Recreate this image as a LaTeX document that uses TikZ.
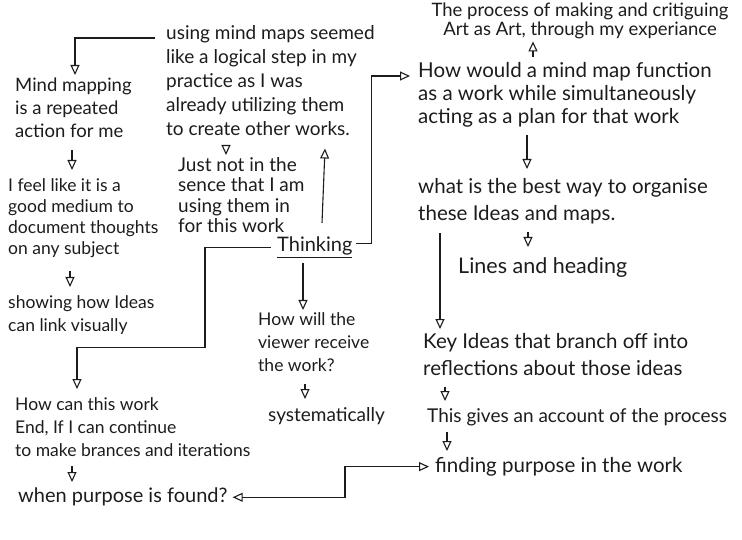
\documentclass[tikz,border=0pt]{standalone}
\usepackage{fontspec}
\setmainfont{Lato}
\usetikzlibrary{arrows.meta}
\definecolor{ink}{RGB}{28,28,28}
\newcommand\hand{\fontsize{17.5}{23}\selectfont}
\newcommand\handbig{\fontsize{20.5}{23}\selectfont}
\tikzset{
  note/.style={align=left, inner sep=0pt, anchor=north west, font=\hand, text=ink},
  arr/.style={-{Triangle[open,length=10pt,width=9pt]}, line width=1.1pt, draw=ink},
  arrtwo/.style={{Triangle[open,length=10pt,width=9pt]}-{Triangle[open,length=10pt,width=9pt]}, line width=1.1pt, draw=ink}
}
\begin{document}
\begin{tikzpicture}[x=1pt,y=-1pt]
    \useasboundingbox (0,0) rectangle (742,540);
    % left column
    \node [note, font=\fontsize{18.5}{23}\selectfont] (mindmap) at (15,78) {Mind mapping\\is a repeated\\action for me};
    \node [note, font=\fontsize{17.5}{21}\selectfont] (feel) at (8,178) {I feel like it is a\\good medium to\\document thoughts\\on any subject};
    \node [note] (showing) at (8,295) {showing how Ideas\\can link visually};
    \node [note] (howcan) at (15,397) {How can this work\\End, If I can continue\\to make brances and iterations};
    \node [note, font=\fontsize{20}{23}\selectfont] (found) at (18,488) {when purpose is found?};
    % middle
    \node [note, font=\fontsize{19}{24}\selectfont] (using) at (166,25) {using mind maps seemed\\like a logical step in my\\practice as I was\\already utilizing them\\to create other works.};
    \node [note, font=\fontsize{19}{20.5}\selectfont] (just) at (178,157) {Just not in the\\sence that I am\\using them in\\for this work};
    \node [note, font=\fontsize{20}{24}\selectfont] (thinking) at (277,237) {\underline{Thinking}};
    \node [note] (viewer) at (258,312) {How will the\\viewer receive\\the work?};
    \node [note, font=\fontsize{19}{23}\selectfont] (syst) at (268,407) {systematically};
    % right column
    \node [note, anchor=north, align=center, font=\fontsize{18.5}{19}\selectfont] (process) at (580,3) {The process of making and critiguing\\Art as Art, through my experiance};
    \node [note, font=\handbig] (howwould) at (418,62) {How would a mind map function\\as a work while simultaneously\\acting as a plan for that work};
    \node [note, font=\fontsize{20.5}{27}\selectfont] (organise) at (418,178) {what is the best way to organise\\these Ideas and maps.};
    \node [note, font=\fontsize{21.5}{23}\selectfont] (lines) at (458,257) {Lines and heading};
    \node [note, font=\fontsize{20.5}{27}\selectfont] (key) at (423,333) {Key Ideas that branch off into\\reflections about those ideas};
    \node [note, font=\fontsize{19}{23}\selectfont] (gives) at (427,408) {This gives an account of the process};
    \node [note, font=\handbig] (finding) at (435,457) {finding purpose in the work};

    % connectors
    \draw [arr] ([xshift=-11pt,yshift=-13pt]using.north west) -| ([xshift=60pt,yshift=3pt]mindmap.north west);
    \draw [arr] ([xshift=57pt,yshift=-12pt]mindmap.south west) -- ([xshift=64pt,yshift=8pt]feel.north west);
    \draw [arr] ([xshift=62pt,yshift=-14pt]feel.south west) -- ([xshift=62pt,yshift=8pt]showing.north west);
    \draw [arr] ([xshift=60pt,yshift=-9pt]using.south west) -- ([xshift=48pt,yshift=2pt]just.north west);
    \draw [arr] ([xshift=45pt,yshift=14pt]thinking.north west) -- ([xshift=159pt,yshift=-13pt]using.south west);
    \draw [arr] ([xshift=3pt,yshift=4pt]thinking.east) -- ++(16,0) |- ([xshift=-8pt,yshift=-14pt]howwould.north west);
    \draw [arr, shorten <=6pt] (thinking.west) -- ++(-72,0) -- ++(0,100) -| ([xshift=62pt,yshift=8pt]howcan.north west);
    \draw [arr] ([xshift=26pt,yshift=-5pt]thinking.south west) -- ([xshift=45pt,yshift=2pt]viewer.north west);
    \draw [arr] ([xshift=47pt,yshift=-13pt]viewer.south west) -- ([xshift=37pt,yshift=8pt]syst.north west);
    \draw [arr] ([xshift=57pt,yshift=-10pt]howcan.south west) -- ([xshift=54pt,yshift=6pt]found.north west);
    \draw [arrtwo] ([xshift=5pt]found.east) -| ([xshift=-90pt]finding.west) -- ([xshift=-6pt]finding.west);
    \path ([xshift=115pt,yshift=5pt]howwould.north west) coordinate (hwtop);
    \draw [arr, shorten >=2pt] (hwtop) -- (hwtop |- process.south);
    \draw [arr] ([xshift=109pt,yshift=-8pt]howwould.south west) -- ([xshift=109pt,yshift=9pt]organise.north west);
    \draw [arr] ([xshift=110pt,yshift=-8pt]organise.south west) -- ([xshift=70pt,yshift=10pt]lines.north west);
    \draw [arr] ([xshift=22pt,yshift=-9pt]organise.south west) -- ([xshift=17pt,yshift=4pt]key.north west);
    \draw [arr] ([xshift=22pt,yshift=-11pt]key.south west) -- ([xshift=18pt,yshift=7pt]gives.north west);
    \draw [arr] ([xshift=20pt,yshift=-6pt]gives.south west) -- ([xshift=12pt,yshift=6pt]finding.north west);
\end{tikzpicture}
\end{document}
